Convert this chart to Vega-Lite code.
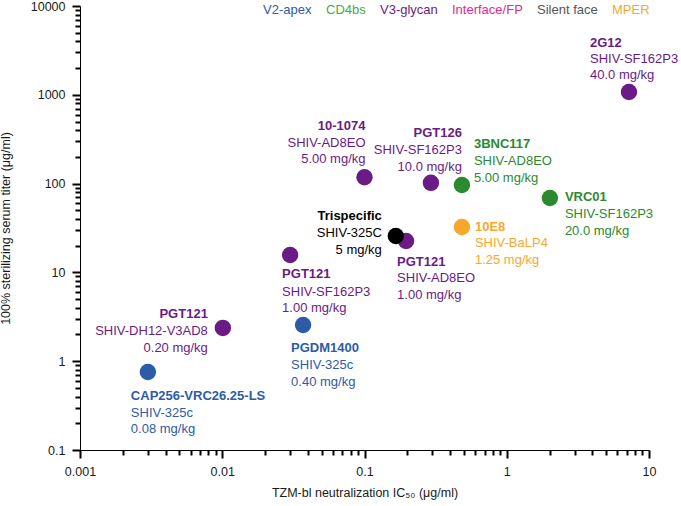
{
  "$schema": "https://vega.github.io/schema/vega-lite/v6.json",
  "width": 569,
  "height": 444,
  "autosize": {"type": "none"},
  "padding": {"left": 80, "top": 6, "right": 32, "bottom": 56},
  "background": "white",
  "config": {
    "view": {"stroke": null},
    "font": "Liberation Sans",
    "axis": {
      "domainColor": "#000000",
      "domainWidth": 1,
      "labelColor": "#1a1a1a",
      "labelFont": "Liberation Sans",
      "labelFontSize": 12.5,
      "labelFlush": false,
      "labelOverlap": false,
      "labelBound": false,
      "grid": false,
      "titleFont": "Liberation Sans",
      "titleFontSize": 12.5,
      "titleFontWeight": "normal",
      "titleColor": "#1a1a1a"
    },
    "legend": {"padding": 0}
  },
  "data": {
    "values": [
      {"id": "cap256", "name": "CAP256-VRC26.25-LS", "info": "SHIV-325c\n0.08 mg/kg", "ic50": 0.003, "titer": 0.755, "epitope": "V2-apex"},
      {"id": "pgt121dh12", "name": "PGT121", "info": "SHIV-DH12-V3AD8\n0.20 mg/kg", "ic50": 0.0101, "titer": 2.37, "epitope": "V3-glycan"},
      {"id": "pgdm1400", "name": "PGDM1400", "info": "SHIV-325c\n0.40 mg/kg", "ic50": 0.037, "titer": 2.56, "epitope": "V2-apex"},
      {"id": "pgt121sf", "name": "PGT121", "info": "SHIV-SF162P3\n1.00 mg/kg", "ic50": 0.03, "titer": 15.7, "epitope": "V3-glycan"},
      {"id": "n1074", "name": "10-1074", "info": "SHIV-AD8EO\n5.00 mg/kg", "ic50": 0.1, "titer": 118, "epitope": "V3-glycan"},
      {"id": "pgt126", "name": "PGT126", "info": "SHIV-SF162P3\n10.0 mg/kg", "ic50": 0.293, "titer": 102, "epitope": "V3-glycan"},
      {"id": "bnc117", "name": "3BNC117", "info": "SHIV-AD8EO\n5.00 mg/kg", "ic50": 0.484, "titer": 96.5, "epitope": "CD4bs"},
      {"id": "pgt121ad8", "name": "PGT121", "info": "SHIV-AD8EO\n1.00 mg/kg", "ic50": 0.196, "titer": 22.6, "epitope": "V3-glycan"},
      {"id": "trispecific", "name": "Trispecific", "info": "SHIV-325C\n5 mg/kg", "ic50": 0.166, "titer": 25.7, "epitope": "Trispecific"},
      {"id": "e10e8", "name": "10E8", "info": "SHIV-BaLP4\n1.25 mg/kg", "ic50": 0.484, "titer": 32.5, "epitope": "MPER"},
      {"id": "vrc01", "name": "VRC01", "info": "SHIV-SF162P3\n20.0 mg/kg", "ic50": 2.01, "titer": 68.9, "epitope": "CD4bs"},
      {"id": "g2g12", "name": "2G12", "info": "SHIV-SF162P3\n40.0 mg/kg", "ic50": 7.23, "titer": 1075, "epitope": "V3-glycan"}
    ]
  },
  "encoding": {
    "x": {
      "field": "ic50",
      "type": "quantitative",
      "scale": {"type": "log", "domain": [0.001, 10], "nice": false},
      "axis": {
        "orient": "bottom",
        "title": "TZM-bl neutralization IC₅₀ (μg/ml)",
        "values": [0.001, 0.01, 0.1, 1, 10],
        "format": "~g",
        "ticks": true,
        "tickColor": "black",
        "tickWidth": 2,
        "tickSize": 8,
        "labelPadding": 7,
        "titleY": 36,
        "titleBaseline": "top"
      }
    },
    "y": {
      "field": "titer",
      "type": "quantitative",
      "scale": {"type": "log", "domain": [0.1, 10000], "nice": false},
      "axis": {
        "orient": "left",
        "title": "100% sterilizing serum titer (μg/ml)",
        "values": [0.1, 1, 10, 100, 1000, 10000],
        "format": "~g",
        "ticks": true,
        "tickColor": "black",
        "tickWidth": 2,
        "tickSize": 8,
        "labelPadding": 7,
        "titleX": -68,
        "titleBaseline": "bottom"
      }
    },
    "color": {
      "field": "epitope",
      "type": "nominal",
      "scale": {
        "domain": ["V2-apex", "CD4bs", "V3-glycan", "Interface/FP", "Silent face", "MPER", "Trispecific"],
        "range": ["#2d5ba8", "#2b8a30", "#6b1b86", "#e5288d", "#555555", "#f9a72b", "#000000"]
      },
      "legend": {
        "values": ["V2-apex", "CD4bs", "V3-glycan", "Interface/FP", "Silent face", "MPER"],
        "title": null,
        "orient": "none",
        "legendX": 170,
        "legendY": -3,
        "direction": "horizontal",
        "symbolSize": 0,
        "symbolOpacity": 0,
        "symbolStrokeWidth": 0,
        "labelOffset": 0,
        "columnPadding": 1,
        "labelFont": "Liberation Sans",
        "labelFontSize": 13,
        "labelColor": {"expr": "datum.value === 'CD4bs' ? '#4aab3c' : scale('color', datum.value)"}
      }
    }
  },
  "resolve": {"axis": {"x": "independent", "y": "independent"}},
  "layer": [
    {
      "mark": {"type": "circle", "size": 270, "opacity": 1},
      "encoding": {
        "x": {
          "field": "ic50",
          "type": "quantitative",
          "scale": {"type": "log", "domain": [0.001, 10], "nice": false},
          "axis": {
            "orient": "bottom",
            "values": [0.002, 0.003, 0.004, 0.005, 0.006, 0.007, 0.008, 0.009, 0.02, 0.03, 0.04, 0.05, 0.06, 0.07, 0.08, 0.09, 0.2, 0.3, 0.4, 0.5, 0.6, 0.7, 0.8, 0.9, 2, 3, 4, 5, 6, 7, 8, 9],
            "ticks": true,
            "tickColor": "black",
            "tickWidth": 2,
            "tickSize": 5,
            "labels": false,
            "domain": false,
            "title": null
          }
        },
        "y": {
          "field": "titer",
          "type": "quantitative",
          "scale": {"type": "log", "domain": [0.1, 10000], "nice": false},
          "axis": {
            "orient": "left",
            "values": [0.2, 0.3, 0.4, 0.5, 0.6, 0.7, 0.8, 0.9, 2, 3, 4, 5, 6, 7, 8, 9, 20, 30, 40, 50, 60, 70, 80, 90, 200, 300, 400, 500, 600, 700, 800, 900, 2000, 3000, 4000, 5000, 6000, 7000, 8000, 9000],
            "ticks": true,
            "tickColor": "black",
            "tickWidth": 2,
            "tickSize": 5,
            "labels": false,
            "domain": false,
            "title": null
          }
        }
      }
    },
    {
      "layer": [
        {"transform": [{"filter": "datum.id === 'cap256'"}], "mark": {"type": "text", "baseline": "alphabetic", "fontSize": 13, "align": "left", "dx": -17, "dy": 27.5, "fontWeight": "bold"}, "encoding": {"text": {"field": "name"}}},
        {"transform": [{"filter": "datum.id === 'cap256'"}], "mark": {"type": "text", "baseline": "alphabetic", "fontSize": 13, "align": "left", "dx": -17, "dy": 44.5, "lineBreak": "\n", "lineHeight": 16.5}, "encoding": {"text": {"field": "info"}}},
        {"transform": [{"filter": "datum.id === 'pgt121dh12'"}], "mark": {"type": "text", "baseline": "alphabetic", "fontSize": 13, "align": "right", "dx": -15, "dy": -9.5, "fontWeight": "bold"}, "encoding": {"text": {"field": "name"}}},
        {"transform": [{"filter": "datum.id === 'pgt121dh12'"}], "mark": {"type": "text", "baseline": "alphabetic", "fontSize": 13, "align": "right", "dx": -15, "dy": 7.5, "lineBreak": "\n", "lineHeight": 16.5}, "encoding": {"text": {"field": "info"}}},
        {"transform": [{"filter": "datum.id === 'pgdm1400'"}], "mark": {"type": "text", "baseline": "alphabetic", "fontSize": 13, "align": "left", "dx": -12, "dy": 27.5, "fontWeight": "bold"}, "encoding": {"text": {"field": "name"}}},
        {"transform": [{"filter": "datum.id === 'pgdm1400'"}], "mark": {"type": "text", "baseline": "alphabetic", "fontSize": 13, "align": "left", "dx": -12, "dy": 44.5, "lineBreak": "\n", "lineHeight": 16.5}, "encoding": {"text": {"field": "info"}}},
        {"transform": [{"filter": "datum.id === 'pgt121sf'"}], "mark": {"type": "text", "baseline": "alphabetic", "fontSize": 13, "align": "left", "dx": -8, "dy": 22.5, "fontWeight": "bold"}, "encoding": {"text": {"field": "name"}}},
        {"transform": [{"filter": "datum.id === 'pgt121sf'"}], "mark": {"type": "text", "baseline": "alphabetic", "fontSize": 13, "align": "left", "dx": -8, "dy": 40.5, "lineBreak": "\n", "lineHeight": 16.5}, "encoding": {"text": {"field": "info"}}},
        {"transform": [{"filter": "datum.id === 'n1074'"}], "mark": {"type": "text", "baseline": "alphabetic", "fontSize": 13, "align": "right", "dx": 1, "dy": -47.5, "fontWeight": "bold"}, "encoding": {"text": {"field": "name"}}},
        {"transform": [{"filter": "datum.id === 'n1074'"}], "mark": {"type": "text", "baseline": "alphabetic", "fontSize": 13, "align": "right", "dx": 1, "dy": -30.5, "lineBreak": "\n", "lineHeight": 16.5}, "encoding": {"text": {"field": "info"}}},
        {"transform": [{"filter": "datum.id === 'pgt126'"}], "mark": {"type": "text", "baseline": "alphabetic", "fontSize": 13, "align": "right", "dx": 31, "dy": -45.5, "fontWeight": "bold"}, "encoding": {"text": {"field": "name"}}},
        {"transform": [{"filter": "datum.id === 'pgt126'"}], "mark": {"type": "text", "baseline": "alphabetic", "fontSize": 13, "align": "right", "dx": 31, "dy": -28.5, "lineBreak": "\n", "lineHeight": 16.5}, "encoding": {"text": {"field": "info"}}},
        {"transform": [{"filter": "datum.id === 'bnc117'"}], "mark": {"type": "text", "baseline": "alphabetic", "fontSize": 13, "align": "left", "dx": 12, "dy": -36.5, "fontWeight": "bold"}, "encoding": {"text": {"field": "name"}}},
        {"transform": [{"filter": "datum.id === 'bnc117'"}], "mark": {"type": "text", "baseline": "alphabetic", "fontSize": 13, "align": "left", "dx": 12, "dy": -19.5, "lineBreak": "\n", "lineHeight": 16.5}, "encoding": {"text": {"field": "info"}}},
        {"transform": [{"filter": "datum.id === 'pgt121ad8'"}], "mark": {"type": "text", "baseline": "alphabetic", "fontSize": 13, "align": "left", "dx": -9, "dy": 25.5, "fontWeight": "bold"}, "encoding": {"text": {"field": "name"}}},
        {"transform": [{"filter": "datum.id === 'pgt121ad8'"}], "mark": {"type": "text", "baseline": "alphabetic", "fontSize": 13, "align": "left", "dx": -9, "dy": 41.5, "lineBreak": "\n", "lineHeight": 16.5}, "encoding": {"text": {"field": "info"}}},
        {"transform": [{"filter": "datum.id === 'trispecific'"}], "mark": {"type": "text", "baseline": "alphabetic", "fontSize": 13, "align": "right", "dx": -14, "dy": -15.5, "fontWeight": "bold"}, "encoding": {"text": {"field": "name"}}},
        {"transform": [{"filter": "datum.id === 'trispecific'"}], "mark": {"type": "text", "baseline": "alphabetic", "fontSize": 13, "align": "right", "dx": -14, "dy": 1.5, "lineBreak": "\n", "lineHeight": 16.5}, "encoding": {"text": {"field": "info"}}},
        {"transform": [{"filter": "datum.id === 'e10e8'"}], "mark": {"type": "text", "baseline": "alphabetic", "fontSize": 13, "align": "left", "dx": 13, "dy": 4.5, "fontWeight": "bold"}, "encoding": {"text": {"field": "name"}}},
        {"transform": [{"filter": "datum.id === 'e10e8'"}], "mark": {"type": "text", "baseline": "alphabetic", "fontSize": 13, "align": "left", "dx": 13, "dy": 20.5, "lineBreak": "\n", "lineHeight": 16.5}, "encoding": {"text": {"field": "info"}}},
        {"transform": [{"filter": "datum.id === 'vrc01'"}], "mark": {"type": "text", "baseline": "alphabetic", "fontSize": 13, "align": "left", "dx": 15, "dy": 3.5, "fontWeight": "bold"}, "encoding": {"text": {"field": "name"}}},
        {"transform": [{"filter": "datum.id === 'vrc01'"}], "mark": {"type": "text", "baseline": "alphabetic", "fontSize": 13, "align": "left", "dx": 15, "dy": 20.5, "lineBreak": "\n", "lineHeight": 16.5}, "encoding": {"text": {"field": "info"}}},
        {"transform": [{"filter": "datum.id === 'g2g12'"}], "mark": {"type": "text", "baseline": "alphabetic", "fontSize": 13, "align": "left", "dx": -39, "dy": -45.5, "fontWeight": "bold"}, "encoding": {"text": {"field": "name"}}},
        {"transform": [{"filter": "datum.id === 'g2g12'"}], "mark": {"type": "text", "baseline": "alphabetic", "fontSize": 13, "align": "left", "dx": -39, "dy": -29.5, "lineBreak": "\n", "lineHeight": 16.5}, "encoding": {"text": {"field": "info"}}}
      ]
    }
  ]
}
